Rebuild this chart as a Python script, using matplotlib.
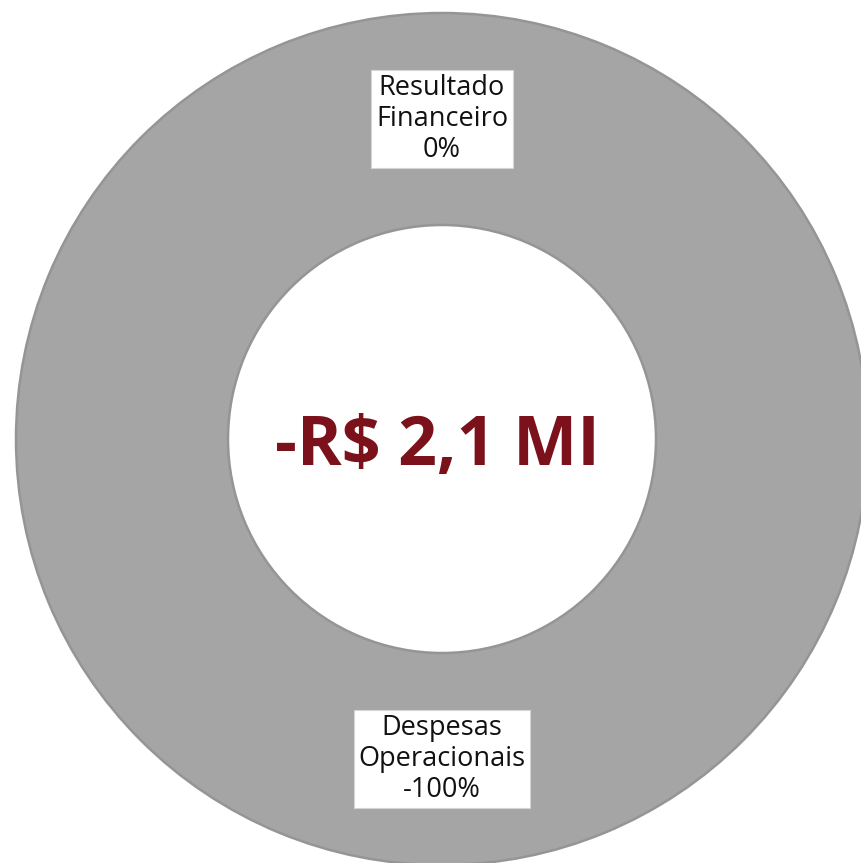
import matplotlib
matplotlib.use("Agg")
import matplotlib.pyplot as plt
import numpy as np

categories = ["Resultado\nFinanceiro", "Despesas\nOperacionais"]
values = [0.0, -2.1]          # R$ milhões
total_label = "-R$ 2,1 MI"

ring_color = "#A5A5A5"
edge_color = "#959595"
center_color = "#7B111B"

W, H = 862, 863
fig = plt.figure(figsize=(W / 100, H / 100), dpi=100)
ax = fig.add_axes([0, 0, 1, 1])

cx, cy = 442, H - 439
R_out, R_in = 426, 214
width = R_out - R_in

total = sum(values)
shares = [v / abs(total) * 100 if total != 0 else 0 for v in values]
abs_vals = [abs(v) for v in values]

wedges, _ = ax.pie(abs_vals, colors=[ring_color] * len(values), startangle=90,
                   counterclock=False, center=(cx, cy), radius=R_out,
                   wedgeprops=dict(width=width, edgecolor=edge_color, linewidth=1.8))
ax.set_xlim(0, W)
ax.set_ylim(0, H)
ax.set_aspect("equal")
ax.axis("off")

# labels at middle of ring
s = sum(abs_vals)
start = 90.0
r_mid = (R_out + R_in) / 2
for cat, v, sh in zip(categories, abs_vals, shares):
    sweep = v / s * 360
    mid = np.deg2rad(start - sweep / 2)
    start -= sweep
    x = cx + r_mid * np.cos(mid)
    y = cy + r_mid * np.sin(mid)
    ax.text(x, y, f"{cat}\n{sh:.0f}%", ha="center", va="center",
            fontsize=19.5, family="Open Sans", color="#111111", linespacing=1.12,
            bbox=dict(boxstyle="square,pad=0.18", fc="white", ec="#D5D5D5", lw=0.8))

ax.text(cx - 5, cy - 8, total_label, ha="center", va="center", fontsize=49,
        fontweight="bold", family="Open Sans", color=center_color)

fig.savefig("out.png", dpi=100)
